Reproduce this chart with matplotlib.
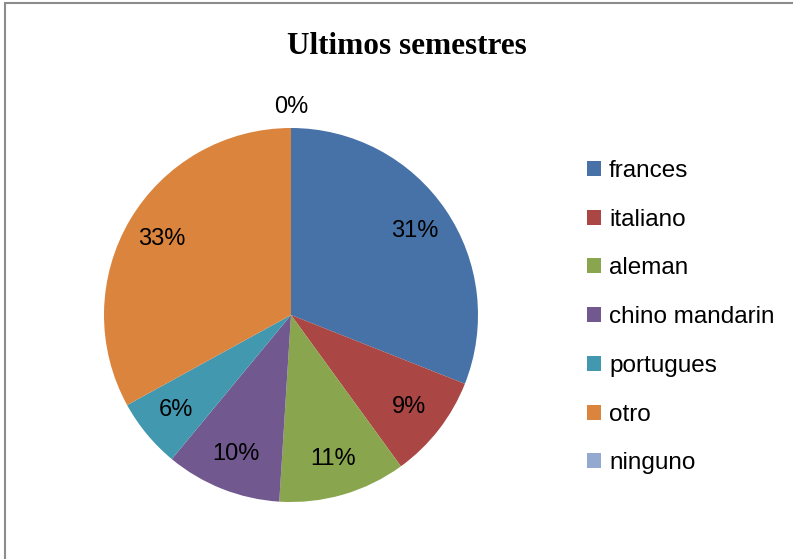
import matplotlib
matplotlib.use("Agg")
import matplotlib.pyplot as plt
from matplotlib.patches import Rectangle

# data
categories = ["frances", "italiano", "aleman", "chino mandarin", "portugues", "otro", "ninguno"]
values = [31, 9, 11, 10, 6, 33, 0]
colors = ["#4672A8", "#AA4643", "#89A54E", "#71588F", "#4198AF", "#DB843D", "#93A9CF"]

W, H = 793, 559
fig = plt.figure(figsize=(W / 100, H / 100), dpi=100)

# pie centre (291, 315) px, radius 187 px
cx, cy, r = 291, 315, 187
ax = fig.add_axes([(cx - r) / W, (H - cy - r) / H, 2 * r / W, 2 * r / H])

wedges, texts, autotexts = ax.pie(
    values, colors=colors, startangle=90, counterclock=False,
    autopct="%1.0f%%", pctdistance=0.80, radius=1.0,
    wedgeprops=dict(linewidth=0),
    textprops=dict(fontsize=17, family="Liberation Sans", color="black"),
)
ax.set_xlim(-1, 1)
ax.set_ylim(-1, 1)
ax.set_aspect("auto")

# the 0% slice label sits outside the pie
for w, t, v in zip(wedges, autotexts, values):
    if v == 0:
        t.set_position((0, 1.11))

fig.text(407 / W, 1 - 47 / H, "Ultimos semestres", ha="center", va="center",
         family="Liberation Serif", fontweight="bold", fontsize=22.5)

fig.legend(wedges, categories, loc="upper left", bbox_to_anchor=(587 / W, 1 - 160 / H),
           frameon=False, prop=dict(family="Liberation Sans", size=17.5),
           handlelength=0.58, handleheight=0.58, handletextpad=0.33,
           labelspacing=1.1, borderaxespad=0, borderpad=0)

# chart frame (only left and top edges are visible)
fig.add_artist(Rectangle((5 / W, -0.5), 2.0, 0.5 + 1 - 2.5 / H, transform=fig.transFigure,
                         fill=False, edgecolor="#8c8c8c", linewidth=1.5))

fig.savefig("out.png", dpi=100)
